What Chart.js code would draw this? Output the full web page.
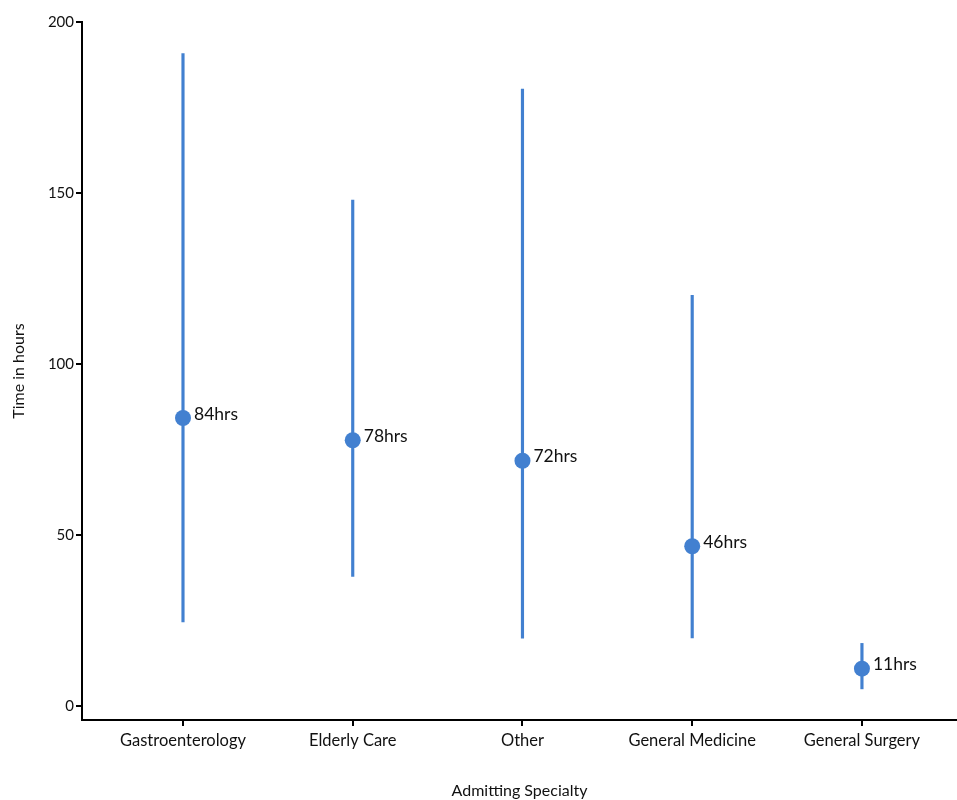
<!DOCTYPE html>
<html>
<head>
<meta charset="utf-8">
<script src="https://cdn.jsdelivr.net/npm/chart.js@4"></script>
<style>
html,body{margin:0;padding:0;background:#fff;}
canvas{display:block;}
</style>
</head>
<body>
<canvas id="c" width="957" height="800"></canvas>
<script>
const categories = ["Gastroenterology", "Elderly Care", "Other", "General Medicine", "General Surgery"];
const medianHours = [84.2, 77.7, 71.7, 46.7, 10.9];
const medianLabels = ["84hrs", "78hrs", "72hrs", "46hrs", "11hrs"];
const lowHours = [24.6, 37.9, 19.8, 19.9, 5.0];
const highHours = [190.8, 147.9, 180.4, 120.1, 18.3];
const yTicks = [0, 50, 100, 150, 200];

const BLUE = "#4280d0";
const FONT = "Lato, 'Noto Sans', sans-serif";

const labelPlugin = {
  id: "pointLabels",
  afterDatasetsDraw(chart) {
    const meta = chart.getDatasetMeta(0);
    const ctx = chart.ctx;
    ctx.save();
    ctx.font = "17.5px " + FONT;
    ctx.fillStyle = "#111";
    ctx.textAlign = "left";
    ctx.textBaseline = "middle";
    meta.data.forEach((el, i) => {
      ctx.fillText(medianLabels[i], el.x + 11, el.y - 4);
    });
    ctx.restore();
  }
};

new Chart(document.getElementById("c"), {
  type: "bar",
  data: {
    datasets: [
      {
        type: "line",
        label: "Median",
        data: categories.map((c, i) => ({ x: i, y: medianHours[i] })),
        showLine: false,
        pointRadius: 8,
        pointHoverRadius: 8,
        pointBackgroundColor: BLUE,
        pointBorderColor: BLUE,
        pointBorderWidth: 0,
        clip: false,
        order: 0
      },
      {
        type: "bar",
        label: "Range",
        data: categories.map((c, i) => ({ x: i, y: [lowHours[i], highHours[i]] })),
        backgroundColor: BLUE,
        borderWidth: 0,
        barThickness: 2.5,
        order: 1
      }
    ]
  },
  options: {
    responsive: false,
    animation: false,
    devicePixelRatio: 1,
    layout: { autoPadding: false, padding: { top: 22, right: 0, left: 0, bottom: 0 } },
    plugins: { legend: { display: false }, tooltip: { enabled: false } },
    scales: {
      x: {
        type: "linear",
        offset: false,
        min: -0.595,
        max: 4.56,
        afterBuildTicks: (s) => { s.ticks = categories.map((c, i) => ({ value: i })); },
        afterFit: (s) => { s.height = 80; s.paddingLeft = 0; s.paddingRight = 0; },
        ticks: {
          autoSkip: false,
          maxRotation: 0,
          padding: 5,
          color: "#111",
          font: { family: FONT, size: 16.5 },
          callback: (v) => categories[v]
        },
        grid: { offset: false, drawOnChartArea: false, drawTicks: true, tickLength: 6, color: "#000", lineWidth: 2 },
        border: { display: true, color: "#000", width: 2 },
        title: {
          display: true,
          text: "Admitting Specialty",
          color: "#111",
          font: { family: FONT, size: 16 },
          padding: { top: 0, bottom: 0 }
        }
      },
      y: {
        type: "linear",
        min: -4.1,
        max: 200,
        afterBuildTicks: (s) => { s.ticks = yTicks.map(v => ({ value: v })); },
        afterFit: (s) => { s.width = 82; s.paddingLeft = 0; s.paddingRight = 0; },
        ticks: {
          padding: 2,
          color: "#111",
          font: { family: FONT, size: 15 }
        },
        grid: { drawOnChartArea: false, drawTicks: true, tickLength: 6, color: "#000", lineWidth: 2 },
        border: { display: true, color: "#000", width: 2 },
        title: {
          display: true,
          text: "Time in hours",
          color: "#111",
          font: { family: FONT, size: 16 },
          padding: { top: 9, bottom: 0 }
        }
      }
    }
  },
  plugins: [labelPlugin]
});
</script>
</body>
</html>
